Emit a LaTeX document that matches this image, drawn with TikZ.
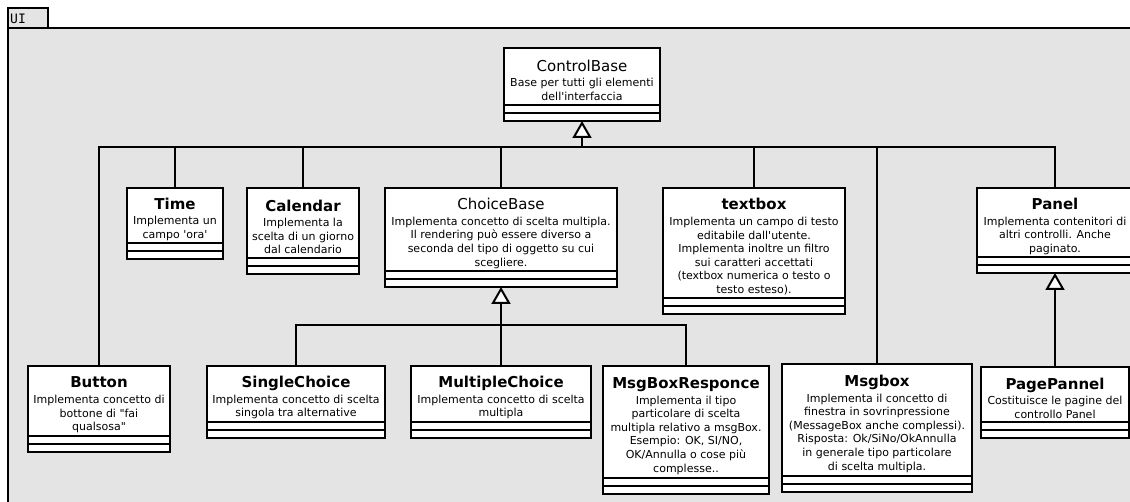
\documentclass[tikz,border=0pt]{standalone}
\usepackage{fontspec}
\newfontfamily\umlfont{DejaVu Sans}
\newfontfamily\umlmono{DejaVu Sans Mono}
\usetikzlibrary{arrows.meta}
\definecolor{pkgfill}{HTML}{E4E4E4}
\tikzset{
  umlline/.style={line width=2pt},
  classhead/.style={draw, umlline, fill=white, inner sep=0pt, outer sep=0pt, align=center,
    font=\umlfont\fontsize{11}{13.6}\selectfont},
  classpart/.style={draw, umlline, fill=white, inner sep=0pt, outer sep=0pt, minimum height=8pt},
  link/.style={umlline},
  gen/.style={umlline, -{Triangle[length=17pt, width=19pt, fill=white]}},
  pkgframe/.style={draw, umlline, fill=pkgfill},
}
% class box: name, centre x, top y, width, name-compartment height, title, description
\newcommand\umlclass[7]{%
  \node[classhead, minimum width=#4, minimum height=#5, anchor=north] (#1) at (#2,#3) {#6\\[2pt]#7};
  \node[classpart, minimum width=#4, anchor=north] (#1-a) at (#1.south) {};
  \node[classpart, minimum width=#4, anchor=north] (#1-o) at (#1-a.south) {};
}
\newcommand\plaintitle[1]{{\fontsize{15}{17}\selectfont\rule{0pt}{19pt}#1}}
\newcommand\boldtitle[1]{{\fontsize{15}{17}\selectfont\bfseries\rule{0pt}{19pt}#1}}
\begin{document}
\begin{tikzpicture}[x=1pt, y=-1pt]
\useasboundingbox (0,0) rectangle (1130,502);
\clip (0,0) rectangle (1130,502);

% package UI
\path[pkgframe] (8,28) rectangle (1145,515);
\path[pkgframe] (8,8) rectangle (48,28);
\node[font=\umlmono\fontsize{13}{15}\selectfont, anchor=base west, inner sep=0pt] (pkglabel) at (10,23.5) {UI};

% classes
\umlclass{cb}{582}{48}{156}{57}{\plaintitle{ControlBase}}{Base per tutti gli elementi\\dell'interfaccia}
\umlclass{time}{175}{188}{96}{55}{\boldtitle{Time}}{Implementa un\\campo 'ora'}
\umlclass{cal}{303}{188}{112}{70}{\boldtitle{Calendar}}{Implementa la\\scelta di un giorno\\dal calendario}
\umlclass{choice}{501}{188}{232}{83}{\plaintitle{ChoiceBase}}{Implementa concetto di scelta multipla.\\Il rendering può essere diverso a\\seconda del tipo di oggetto su cui\\scegliere.}
\umlclass{textbox}{754}{188}{182}{110}{\boldtitle{textbox}}{Implementa un campo di testo\\editabile dall'utente.\\Implementa inoltre un filtro\\sui caratteri accettati\\(textbox numerica o testo o\\testo esteso).}
\umlclass{panel}{1055}{188}{156}{69}{\boldtitle{Panel}}{Implementa contenitori di\\altri controlli. Anche\\paginato.}
\umlclass{button}{99}{366}{142}{70}{\boldtitle{Button}}{Implementa concetto di\\bottone di "fai\\qualsosa"}
\umlclass{single}{296}{366}{178}{56}{\boldtitle{SingleChoice}}{Implementa concetto di scelta\\singola tra alternative}
\umlclass{multi}{501}{366}{180}{56}{\boldtitle{MultipleChoice}}{Implementa concetto di scelta\\multipla}
\umlclass{resp}{686}{366}{166}{112}{\boldtitle{MsgBoxResponce}}{Implementa il tipo\\particolare di scelta\\multipla relativo a msgBox.\\Esempio: OK, SI/NO,\\OK/Annulla o cose più\\complesse..}
\umlclass{msgbox}{877}{364}{190}{112}{\boldtitle{Msgbox}}{Implementa il concetto di\\finestra in sovrinpressione\\(MessageBox anche complessi).\\Risposta: Ok/SiNo/OkAnnulla\\in generale tipo particolare\\di scelta multipla.}
\umlclass{page}{1055}{367}{148}{55}{\boldtitle{PagePannel}}{Costituisce le pagine del\\controllo Panel}

% generalizations towards ControlBase
\coordinate (cb-join) at (582,147);
\foreach \c in {button,time,cal,choice,textbox,msgbox,panel}
  \draw[link] (\c.north) |- (cb-join);
\draw[gen] (cb-join) -- (cb-o.south);

% generalizations towards ChoiceBase
\coordinate (choice-join) at (501,325);
\foreach \c in {single,multi,resp}
  \draw[link] (\c.north) |- (choice-join);
\draw[gen] (choice-join) -- (choice-o.south);

% PagePannel specializes Panel
\draw[gen] (page.north) -- (panel-o.south);
\end{tikzpicture}
\end{document}
